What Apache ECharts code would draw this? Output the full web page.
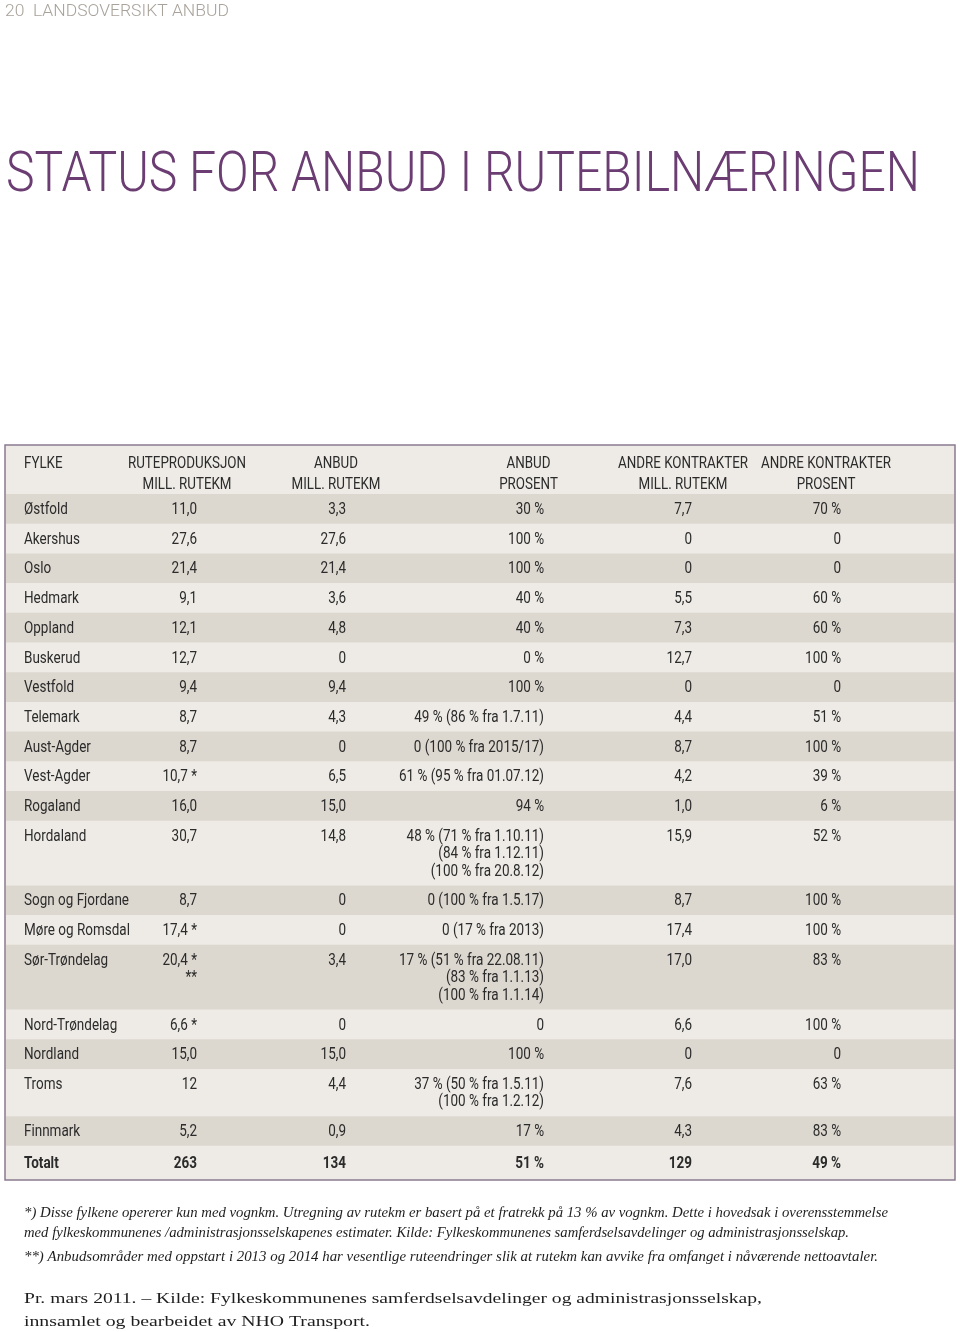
<!DOCTYPE html>
<html><head><meta charset="utf-8">
<script src="https://cdn.jsdelivr.net/npm/echarts@6/dist/echarts.min.js"></script>
<style>html,body{margin:0;padding:0;background:#fff}#c{width:960px;height:1332px}</style>
</head><body><div id="c"></div>
<script>
// ---------- DATA ----------
const pageLabel = '20  LANDSOVERSIKT ANBUD';
const title = 'STATUS FOR ANBUD I RUTEBILNÆRINGEN';
const headers = ['FYLKE', 'RUTEPRODUKSJON\nMILL. RUTEKM', 'ANBUD\nMILL. RUTEKM', 'ANBUD\nPROSENT', 'ANDRE KONTRAKTER\nMILL. RUTEKM', 'ANDRE KONTRAKTER\nPROSENT'];
const fylker = ['Østfold','Akershus','Oslo','Hedmark','Oppland','Buskerud','Vestfold','Telemark','Aust-Agder','Vest-Agder','Rogaland','Hordaland','Sogn og Fjordane','Møre og Romsdal','Sør-Trøndelag','Nord-Trøndelag','Nordland','Troms','Finnmark'];
const ruteproduksjon = ['11,0','27,6','21,4','9,1','12,1','12,7','9,4','8,7','8,7','10,7 *','16,0','30,7','8,7','17,4 *','20,4 *\n**','6,6 *','15,0','12','5,2'];
const anbudMill = ['3,3','27,6','21,4','3,6','4,8','0','9,4','4,3','0','6,5','15,0','14,8','0','0','3,4','0','15,0','4,4','0,9'];
const anbudProsent = ['30 %','100 %','100 %','40 %','40 %','0 %','100 %','49 % (86 % fra 1.7.11)','0 (100 % fra 2015/17)','61 % (95 % fra 01.07.12)','94 %','48 % (71 % fra 1.10.11)\n(84 % fra 1.12.11)\n(100 % fra 20.8.12)','0 (100 % fra 1.5.17)','0 (17 % fra 2013)','17 % (51 % fra 22.08.11)\n(83 % fra 1.1.13)\n(100 % fra 1.1.14)','0','100 %','37 % (50 % fra 1.5.11)\n(100 % fra 1.2.12)','17 %'];
const andreMill = ['7,7','0','0','5,5','7,3','12,7','0','4,4','8,7','4,2','1,0','15,9','8,7','17,4','17,0','6,6','0','7,6','4,3'];
const andreProsent = ['70 %','0','0','60 %','60 %','100 %','0','51 %','100 %','39 %','6 %','52 %','100 %','100 %','83 %','100 %','0','63 %','83 %'];
const totals = ['Totalt','263','134','51 %','129','49 %'];
const footnotes = [
  '*) Disse fylkene opererer kun med vognkm. Utregning av rutekm er basert på et fratrekk på 13 % av vognkm. Dette i hovedsak i overensstemmelse',
  'med fylkeskommunenes /administrasjonsselskapenes estimater. Kilde: Fylkeskommunenes samferdselsavdelinger og administrasjonsselskap.',
  '**) Anbudsområder med oppstart i 2013 og 2014 har vesentlige ruteendringer slik at rutekm kan avvike fra omfanget i nåværende nettoavtaler.'
];
const sourceLines = [
  'Pr. mars 2011. – Kilde: Fylkeskommunenes samferdselsavdelinger og administrasjonsselskap,',
  'innsamlet og bearbeidet av NHO Transport.'
];

// ---------- LAYOUT ----------
const SANS = 'Roboto, "Open Sans", sans-serif';
const SERIF = '"Liberation Serif", "DejaVu Serif", serif';
const DARK = '#dcd7cf', LIGHT = '#eeebe6', INK = '#2b2b2b', PURPLE = '#6b3d73', BORDER = '#8a7b90';
const ctx = document.createElement('canvas').getContext('2d');
function measure(t, font){ ctx.font = font; return ctx.measureText(t).width; }
function fit(t, font, w){ return w / measure(t, font); }

const bodyFont = '16px ' + SANS, boldFont = 'bold 16px ' + SANS, headFont = '16px ' + SANS;
const bodyScale = fit('Sogn og Fjordane', bodyFont, 105);
const headScale = fit('ANDRE KONTRAKTER', headFont, 130);
// column anchors within the table (table width 950)
const colLeft0 = 19;
const colRight = [null, 192, 341, 539, 687, 836];
const colHeadCenter = [null, 182, 331, 523.5, 678, 821];
// vertical units (1 = single row)
const HEAD_U = 1.65, EXTRA_U = 0.59, TOTAL_U = 1.15, FIRST_U = 0.54;
const HEAD_LINES_U = [0.63, 1.34];

const rows = fylker.map((f, i) => [f, ruteproduksjon[i], anbudMill[i], anbudProsent[i], andreMill[i], andreProsent[i]]);
rows.push(totals);
const heights = [HEAD_U], tops = [0];
rows.forEach((r, i) => {
  const lines = Math.max(...r.map(c => c.split('\n').length));
  tops.push(tops[tops.length - 1] + heights[heights.length - 1]);
  heights.push(i === rows.length - 1 ? TOTAL_U : 1 + (lines - 1) * EXTRA_U);
});
const totalU = tops[tops.length - 1] + heights[heights.length - 1];

function txt(x, y, text, font, align, scale, fill){
  return {type: 'text', x: x, y: y, scaleX: scale, silent: true,
    style: {x: 0, y: 0, text: text, font: font, fill: fill || INK, align: align, verticalAlign: 'middle'}};
}

function renderItem(params, api){
  const i = api.value(0);
  const top = tops[i], h = heights[i];
  const p0 = api.coord([0, top]), p1 = api.coord([950, top + h]);
  const ch = [];
  if (i > 0 && (i - 1) % 2 === 0) {
    ch.push({type: 'rect', shape: {x: p0[0] + 1, y: p0[1], width: p1[0] - p0[0] - 2, height: p1[1] - p0[1]}, style: {fill: DARK}});
  }
  if (i === 0) {
    headers.forEach((hd, c) => {
      hd.split('\n').forEach((ln, k) => {
        const y = api.coord([0, top + HEAD_LINES_U[k]])[1];
        if (c === 0) ch.push(txt(api.coord([colLeft0, 0])[0], y, ln, headFont, 'left', headScale));
        else ch.push(txt(api.coord([colHeadCenter[c], 0])[0], y, ln, headFont, 'center', headScale));
      });
    });
  } else {
    const r = rows[i - 1];
    const bold = (i === rows.length);
    const f = bold ? boldFont : bodyFont;
    r.forEach((cell, c) => {
      cell.split('\n').forEach((ln, k) => {
        const y = api.coord([0, top + (bold ? TOTAL_U / 2 + 0.02 : FIRST_U) + k * EXTRA_U])[1];
        if (c === 0) ch.push(txt(api.coord([colLeft0, 0])[0], y, ln, f, 'left', bodyScale));
        else ch.push(txt(api.coord([colRight[c], 0])[0], y, ln, f, 'right', bodyScale));
      });
    });
  }
  return {type: 'group', children: ch};
}

// ---------- PAGE TEXT ----------
const titleFont = '300 56px ' + SANS;
const labelFont = '300 17px ' + SANS;
const noteFont = 'italic 15px ' + SERIF;
const srcFont = '15px ' + SERIF;
const noteWidths = [864, 825, 854];
const noteYs = [1213, 1233, 1257];
const srcWidths = [738, 346];
const srcYs = [1299, 1322];

const graphic = [
  {type: 'text', x: 5, y: 11.5, scaleX: fit(pageLabel, labelFont, 224), silent: true,
   style: {text: pageLabel, font: labelFont, fill: '#a8a29a', align: 'left', verticalAlign: 'middle'}},
  {type: 'text', x: 6, y: 177, scaleX: fit(title, titleFont, 914), silent: true,
   style: {text: title, font: titleFont, fill: PURPLE, align: 'left', verticalAlign: 'middle'}}
];
footnotes.forEach((t, k) => graphic.push({type: 'text', x: 24, y: noteYs[k], scaleX: fit(t, noteFont, noteWidths[k]), silent: true,
  style: {text: t, font: noteFont, fill: '#1e1e1e', align: 'left', verticalAlign: 'middle'}}));
sourceLines.forEach((t, k) => graphic.push({type: 'text', x: 24, y: srcYs[k], scaleX: fit(t, srcFont, srcWidths[k]), silent: true,
  style: {text: t, font: srcFont, fill: '#1e1e1e', align: 'left', verticalAlign: 'middle'}}));

const chart = echarts.init(document.getElementById('c'), null, {renderer: 'canvas'});
chart.setOption({
  animation: false,
  backgroundColor: '#fff',
  grid: {left: 5, right: 5, top: 445, bottom: 152, show: true, backgroundColor: LIGHT, borderColor: BORDER, borderWidth: 1.5},
  xAxis: {type: 'value', min: 0, max: 950, show: false},
  yAxis: {type: 'value', min: 0, max: totalU, inverse: true, show: false},
  graphic: graphic,
  series: [{
    type: 'custom', silent: true, clip: false,
    renderItem: renderItem,
    data: tops.map((t, i) => [i, t])
  }]
});
</script></body></html>
